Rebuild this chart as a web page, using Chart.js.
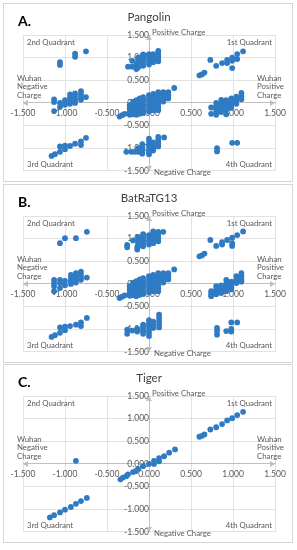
<!DOCTYPE html>
<html>
<head>
<meta charset="utf-8">
<script src="https://cdn.jsdelivr.net/npm/chart.js@4.4.1/dist/chart.umd.min.js"></script>
<style>
body{margin:0;background:#fff;width:297px;height:550px;overflow:hidden;position:relative}
.card{position:absolute;left:3px;width:288px;height:177px;border:1px solid #d6d6d6;background:#fff}
.card canvas{display:block}
</style>
</head>
<body>
<div class="card" style="top:3px"><canvas id="chartA" width="288" height="177"></canvas></div>
<div class="card" style="top:184px"><canvas id="chartB" width="288" height="177"></canvas></div>
<div class="card" style="top:364px"><canvas id="chartC" width="288" height="177"></canvas></div>
<script>
// charges: [Wuhan charge, other charge]
var pangolinPoints = [
  [-1.06,0.90],[-1.06,0.84],[-0.88,1.09],[-0.88,1.02],[-0.75,1.14],
  [-1.13,0.08],[-1.13,0.02],[-1.13,-0.18],[-1.06,0.00],[-1.06,-0.09],[-1.00,0.06],[-1.00,-0.04],
  [-0.94,0.19],[-0.94,0.12],[-0.94,0.05],[-0.94,-0.02],[-0.88,0.21],[-0.88,0.14],[-0.88,0.07],[-0.88,0.00],
  [-0.81,0.26],[-0.81,0.19],[-0.81,0.12],[-0.81,0.07],[-0.75,0.13],
  [-1.16,-1.17],[-1.12,-1.13],[-1.06,-1.08],[-1.06,-0.96],[-1.00,-1.02],[-1.00,-0.94],[-0.94,-0.95],
  [-0.88,-0.90],[-0.81,-0.85],[-0.81,-0.93],[-0.75,-0.77],
  [-0.25,0.80],[-0.20,0.80],[-0.20,0.93],[-0.15,0.85],[-0.15,0.75],
  [-0.13,0.78],[-0.13,0.86],[-0.13,0.93],[-0.13,1.00],
  [-0.07,0.82],[-0.07,0.89],[-0.07,0.96],[-0.07,1.03],[-0.07,1.07],
  [0.00,0.85],[0.00,0.92],[0.00,0.99],[0.00,1.05],[0.00,1.08],
  [0.05,0.90],[0.05,0.96],[0.05,1.02],[0.05,1.08],
  [0.11,0.92],[0.11,0.98],[0.11,1.04],[0.11,1.10],[0.11,1.15],
  [-0.35,-0.30],[-0.32,-0.27],[-0.29,-0.24],
  [-0.23,-0.05],[-0.23,-0.12],[-0.23,-0.19],[-0.23,-0.26],
  [-0.19,0.03],[-0.19,-0.04],[-0.19,-0.11],[-0.19,-0.18],[-0.19,-0.25],
  [-0.15,0.06],[-0.15,-0.01],[-0.15,-0.08],[-0.15,-0.15],[-0.15,-0.22],[-0.15,-0.26],
  [-0.11,0.10],[-0.11,0.03],[-0.11,-0.04],[-0.11,-0.11],[-0.11,-0.18],[-0.11,-0.24],
  [-0.07,0.13],[-0.07,0.06],[-0.07,-0.01],[-0.07,-0.08],[-0.07,-0.15],[-0.07,-0.22],
  [0.00,0.17],[0.00,0.10],[0.00,0.03],[0.00,-0.04],[0.00,-0.11],[0.00,-0.19],
  [0.05,0.20],[0.05,0.13],[0.05,0.06],[0.05,-0.01],[0.05,-0.08],[0.05,-0.16],
  [0.11,0.24],[0.11,0.17],[0.11,0.10],[0.11,0.03],[0.11,-0.04],[0.11,-0.10],[0.11,-0.16],
  [0.17,0.24],[0.17,0.17],[0.17,0.10],[0.17,0.03],[0.23,0.24],[0.23,0.17],[0.23,0.10],[0.30,0.33],
  [0.60,0.61],[0.63,0.63],[0.66,0.67],[0.73,0.95],[0.80,0.82],[0.87,0.88],[0.93,0.95],[0.93,0.88],
  [0.99,1.00],[0.99,0.93],[0.99,0.77],[1.05,1.08],[1.05,0.97],[1.12,1.14],
  [0.74,-0.10],[0.74,-0.24],[0.80,0.00],[0.80,-0.07],[0.80,-0.14],[0.80,-0.21],[0.80,-0.26],
  [0.86,0.07],[0.86,0.00],[0.86,-0.07],[0.86,-0.14],[0.86,-0.20],
  [0.92,0.06],[0.92,-0.01],[0.92,-0.08],[0.92,-0.15],[0.92,-0.25],
  [0.98,0.10],[0.98,0.03],[0.98,-0.04],[0.98,-0.11],[1.04,0.14],[1.04,0.06],[1.04,-0.02],
  [1.10,0.22],[1.10,0.15],[1.10,0.08],
  [-0.27,-1.08],[-0.21,-1.08],[-0.17,-1.08],[-0.13,-1.00],[-0.13,-1.08],
  [-0.08,-0.91],[-0.08,-0.98],[-0.08,-1.05],[-0.08,-1.12],
  [0.00,-0.79],[0.00,-0.86],[0.00,-0.93],[0.00,-1.00],[0.00,-1.07],[0.00,-1.13],
  [0.05,-0.87],[0.05,-0.94],[0.05,-1.01],[0.05,-1.05],
  [0.11,-0.75],[0.11,-0.82],[0.11,-0.89],[0.11,-0.96],[0.18,-0.76],
  [0.81,-1.00],[0.81,-1.07],[0.99,-0.88],[1.05,-0.88]
];
var batPoints = [
  [-1.06,0.90],[-1.00,1.01],[-0.87,1.01],[-0.74,1.15],
  [-1.13,0.09],[-1.13,0.02],[-1.13,-0.05],[-1.13,-0.16],[-1.06,0.09],[-1.06,0.02],[-1.06,-0.09],
  [-1.00,0.07],[-1.00,-0.03],[-0.93,0.20],[-0.93,0.13],[-0.93,0.06],[-0.93,0.00],
  [-0.87,0.24],[-0.87,0.17],[-0.87,0.10],[-0.87,0.03],[-0.81,0.27],[-0.81,0.20],[-0.81,0.13],[-0.81,0.09],[-0.74,0.14],
  [-1.16,-1.17],[-1.12,-1.13],[-1.06,-1.08],[-1.06,-0.96],[-1.00,-1.02],[-1.00,-0.94],[-0.94,-0.93],
  [-0.87,-0.90],[-0.81,-0.85],[-0.81,-0.93],[-0.74,-0.75],
  [-0.26,0.86],[-0.26,0.81],[-0.19,0.96],[-0.14,0.81],[-0.14,0.76],
  [-0.13,0.83],[-0.13,0.90],[-0.13,0.97],[-0.13,1.04],
  [-0.07,0.83],[-0.07,0.90],[-0.07,0.97],[-0.07,1.04],[-0.07,1.10],
  [0.00,0.87],[0.00,0.94],[0.00,1.01],[0.00,1.08],
  [0.05,0.90],[0.05,0.97],[0.05,1.04],[0.05,1.11],[0.05,1.16],
  [0.11,0.94],[0.11,1.01],[0.11,1.08],[0.11,1.15],[0.17,1.15],
  [-0.35,-0.31],[-0.32,-0.28],[-0.29,-0.25],
  [-0.23,-0.05],[-0.23,-0.12],[-0.23,-0.19],[-0.23,-0.26],
  [-0.19,0.03],[-0.19,-0.04],[-0.19,-0.11],[-0.19,-0.18],[-0.19,-0.25],
  [-0.15,0.06],[-0.15,-0.01],[-0.15,-0.08],[-0.15,-0.15],[-0.15,-0.22],[-0.15,-0.27],
  [-0.11,0.10],[-0.11,0.03],[-0.11,-0.04],[-0.11,-0.11],[-0.11,-0.18],[-0.11,-0.24],
  [-0.07,0.13],[-0.07,0.06],[-0.07,-0.01],[-0.07,-0.08],[-0.07,-0.15],[-0.07,-0.22],
  [0.00,0.17],[0.00,0.10],[0.00,0.03],[0.00,-0.04],[0.00,-0.11],[0.00,-0.19],
  [0.05,0.20],[0.05,0.13],[0.05,0.06],[0.05,-0.01],[0.05,-0.08],[0.05,-0.16],
  [0.11,0.24],[0.11,0.17],[0.11,0.10],[0.11,0.03],[0.11,-0.04],[0.11,-0.10],[0.11,-0.16],
  [0.17,0.24],[0.17,0.17],[0.17,0.10],[0.17,0.03],[0.23,0.24],[0.23,0.17],[0.23,0.10],[0.30,0.32],
  [0.60,0.61],[0.63,0.63],[0.66,0.67],[0.73,0.97],[0.80,0.84],[0.87,0.87],[0.87,0.92],[0.93,0.97],
  [0.99,1.02],[0.99,0.90],[0.99,0.84],[1.05,1.08],[1.12,1.16],
  [0.74,-0.16],[0.74,-0.22],[0.74,-0.27],[0.80,-0.05],[0.80,-0.12],[0.80,-0.18],[0.80,-0.23],
  [0.86,-0.03],[0.86,-0.10],[0.86,-0.16],[0.86,-0.20],
  [0.92,0.09],[0.92,0.02],[0.92,-0.05],[0.92,-0.12],[0.92,-0.16],
  [0.98,0.05],[0.98,-0.02],[0.98,-0.08],[0.98,-0.12],[1.04,0.17],[1.04,0.10],[1.04,0.02],
  [1.10,0.24],[1.10,0.17],[1.10,0.10],[1.10,0.05],
  [-0.26,-1.01],[-0.26,-1.10],[-0.20,-1.03],[-0.14,-0.99],[-0.14,-1.05],
  [-0.07,-0.90],[-0.07,-0.97],[-0.07,-1.04],[-0.07,-1.10],
  [0.00,-0.80],[0.00,-0.87],[0.00,-0.94],[0.00,-1.01],[0.00,-1.08],[0.00,-1.15],
  [0.05,-0.83],[0.05,-0.90],[0.05,-0.97],
  [0.12,-0.68],[0.12,-0.75],[0.12,-0.82],[0.12,-0.89],[0.12,-0.96],
  [0.81,-0.97],[0.81,-1.04],[0.81,-1.12],[0.92,-1.04],[0.98,-0.85],[0.98,-0.99],[0.98,-1.05],[1.05,-0.85]
];
var tigerPoints = [
  [-1.18,-1.18],[-1.13,-1.13],[-1.06,-1.07],[-1.00,-1.01],[-0.93,-0.95],[-0.87,-0.88],[-0.81,-0.82],[-0.74,-0.75],
  [-0.87,0.07],
  [-0.34,-0.34],[-0.31,-0.30],[-0.27,-0.27],[-0.25,-0.23],[-0.19,-0.18],[-0.16,-0.16],[-0.13,-0.11],[-0.07,-0.05],
  [0.00,0.00],[0.06,0.00],[0.06,0.07],[0.12,0.06],[0.12,0.13],[0.18,0.17],[0.24,0.25],[0.31,0.32],
  [0.60,0.60],[0.63,0.62],[0.66,0.65],[0.73,0.76],[0.80,0.81],[0.87,0.88],[0.93,0.96],[0.99,1.01],[1.05,1.08],[1.12,1.15]
];
var panelTitles = ['Pangolin', 'BatRaTG13', 'Tiger'];
var panelLetters = ['A.', 'B.', 'C.'];
var axisMin = -1.5, axisMax = 1.5, axisStep = 0.5;

var FONT = 'Lato, "Open Sans", sans-serif';
var GREY = '#595959';

var chartText = {
  id: 'chartText',
  beforeDatasetsDraw: function(chart, args, opts) {
    var ctx = chart.ctx, a = chart.chartArea;
    var x0 = chart.scales.x.getPixelForValue(0);
    var y0 = chart.scales.y.getPixelForValue(0);
    ctx.save();
    // arrow heads on the axes
    ctx.fillStyle = '#bfbfbf';
    function tri(p1, p2, p3) {
      ctx.beginPath(); ctx.moveTo(p1[0], p1[1]); ctx.lineTo(p2[0], p2[1]); ctx.lineTo(p3[0], p3[1]); ctx.closePath(); ctx.fill();
    }
    tri([a.left, y0], [a.left + 5, y0 - 3], [a.left + 5, y0 + 3]);
    tri([a.right, y0], [a.right - 5, y0 - 3], [a.right - 5, y0 + 3]);
    tri([x0, a.top], [x0 - 3, a.top + 5], [x0 + 3, a.top + 5]);
    tri([x0, a.bottom], [x0 - 3, a.bottom - 5], [x0 + 3, a.bottom - 5]);

    ctx.fillStyle = GREY;
    ctx.font = '7.8px ' + FONT;
    ctx.textBaseline = 'middle';
    ctx.textAlign = 'left';
    ctx.fillText('2nd Quadrant', a.left + 4, a.top + 7);
    ctx.fillText('3rd Quadrant', a.left + 4, a.bottom - 6);
    ctx.fillText('Positive Charge', x0 + 3, a.top - 3);
    ctx.fillText('Negative Charge', x0 + 5, a.bottom + 2);
    ['Wuhan', 'Negative', 'Charge'].forEach(function(t, i) { ctx.fillText(t, a.left - 6, y0 - 24.5 + i * 8.5); });
    ['Wuhan', 'Positive', 'Charge'].forEach(function(t, i) { ctx.fillText(t, a.right - 18, y0 - 24.5 + i * 8.5); });
    ctx.textAlign = 'right';
    ctx.fillText('1st Quadrant', a.right - 3, a.top + 7);
    ctx.fillText('4th Quadrant', a.right - 3, a.bottom - 6);

    ctx.fillStyle = '#000';
    ctx.textAlign = 'left';
    ctx.font = 'bold 14px ' + FONT;
    ctx.fillText(opts.letter, 14, 17);
    ctx.restore();
  }
};

function makeChart(id, points, title, letter) {
  var scaleOpts = function(pos) {
    return {
      type: 'linear',
      position: pos,
      min: axisMin,
      max: axisMax,
      ticks: {
        stepSize: axisStep,
        autoSkip: false,
        maxRotation: 0,
        color: GREY,
        font: { family: FONT, size: 8.5 },
        padding: 5,
        callback: function(v) { return v.toFixed(3); }
      },
      grid: { color: '#e2e2e2', drawTicks: false },
      border: { color: '#bfbfbf' }
    };
  };
  return new Chart(document.getElementById(id), {
    type: 'scatter',
    data: {
      datasets: [{
        data: points.map(function(p) { return { x: p[0], y: p[1] }; }),
        backgroundColor: '#2E7BC4',
        borderWidth: 0,
        pointRadius: 2.9
      }]
    },
    options: {
      responsive: false,
      animation: false,
      layout: { padding: { left: 19, right: 17, top: 0, bottom: 7 } },
      plugins: {
        legend: { display: false },
        tooltip: { enabled: false },
        title: {
          display: true,
          text: title,
          color: '#404040',
          font: { family: FONT, size: 11.5, weight: 'normal' },
          padding: { top: 6, bottom: 11.2 }
        },
        chartText: { letter: letter }
      },
      scales: {
        x: scaleOpts({ y: 0 }),
        y: scaleOpts({ x: 0 })
      }
    },
    plugins: [chartText]
  });
}

makeChart('chartA', pangolinPoints, panelTitles[0], panelLetters[0]);
makeChart('chartB', batPoints, panelTitles[1], panelLetters[1]);
makeChart('chartC', tigerPoints, panelTitles[2], panelLetters[2]);
</script>
</body>
</html>
